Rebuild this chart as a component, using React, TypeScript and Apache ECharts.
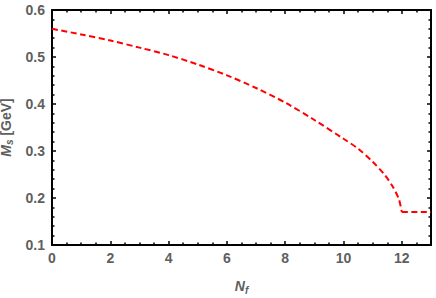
import React, { useEffect, useRef } from "react";
import * as echarts from "echarts";

const nfValues = [0, 1, 2, 3, 4, 5, 6, 7, 8, 9, 10, 10.5, 11, 11.4, 11.7, 11.9, 12];
const msValues = [0.56, 0.548, 0.535, 0.52, 0.504, 0.484, 0.461, 0.434, 0.403, 0.366, 0.326, 0.305, 0.277, 0.25, 0.223, 0.197, 0.17];
const plateauNf = [12, 13];
const plateauMs = [0.17, 0.17];
const xTicks = [0, 2, 4, 6, 8, 10, 12];
const yTicks = [0.1, 0.2, 0.3, 0.4, 0.5, 0.6];

const gray = "#5f5f5f";
const labelStyle = {
  color: gray,
  fontFamily: "Liberation Sans",
  fontWeight: "bold" as const,
  fontSize: 14,
};
const richName = {
  m: { fontFamily: "Liberation Sans", fontStyle: "italic", fontWeight: "bold", fontSize: 14, color: gray, lineHeight: 18, verticalAlign: "middle" },
  s: { fontFamily: "Liberation Sans", fontStyle: "italic", fontWeight: "bold", fontSize: 10, color: gray, lineHeight: 12, verticalAlign: "bottom" },
  n: { fontFamily: "Liberation Sans", fontWeight: "bold", fontSize: 14, color: gray, lineHeight: 18, verticalAlign: "middle" },
};

export default function App() {
  const ref = useRef<HTMLDivElement>(null);
  useEffect(() => {
    if (!ref.current) return;
    const chart = echarts.init(ref.current, null, { renderer: "svg" });
    const col = "#000000";
    const mkX = (pos: string, labels: boolean) => ({
      type: "value",
      position: pos,
      min: xTicks[0],
      max: 13,
      interval: 2,
      axisLine: { show: true, onZero: false, lineStyle: { color: col, width: 2 } },
      axisTick: { show: true, inside: true, length: 4, lineStyle: { color: col, width: 1.5 } },
      minorTick: { show: true, splitNumber: 4, length: 2.5, lineStyle: { color: col, width: 1.5 } },
      splitLine: { show: false },
      name: labels ? "{m|N}{s|f}" : "",
      nameLocation: "middle",
      nameGap: 32,
      nameTextStyle: { rich: richName },
      axisLabel: labels
        ? { ...labelStyle, margin: 6, showMaxLabel: false, formatter: (v: number) => (xTicks.includes(v) ? String(v) : "") }
        : { show: false },
    });
    const mkY = (pos: string, labels: boolean) => ({
      type: "value",
      position: pos,
      min: yTicks[0],
      max: yTicks[yTicks.length - 1],
      interval: 0.1,
      axisLine: { show: true, onZero: false, lineStyle: { color: col, width: 2 } },
      axisTick: { show: true, inside: true, length: 4, lineStyle: { color: col, width: 1.5 } },
      minorTick: { show: true, splitNumber: 5, length: 2.5, lineStyle: { color: col, width: 1.5 } },
      splitLine: { show: false },
      name: labels ? "{m|M}{s|s}{n| [GeV]}" : "",
      nameLocation: "middle",
      nameGap: 34,
      nameTextStyle: { rich: richName },
      axisLabel: labels ? { ...labelStyle, margin: 7, formatter: (v: number) => v.toFixed(1) } : { show: false },
    });
    const lineStyle = { color: "#ff0000", width: 2, type: [6, 3.5] };
    chart.setOption({
      animation: false,
      grid: { left: 52, top: 10, right: 5, bottom: 53, containLabel: false, outerBoundsMode: "none" },
      xAxis: [mkX("bottom", true), mkX("top", false)],
      yAxis: [mkY("left", true), mkY("right", false)],
      series: [
        {
          type: "line",
          xAxisIndex: 0,
          yAxisIndex: 0,
          data: nfValues.map((x, i) => [x, msValues[i]]),
          showSymbol: false,
          smooth: 0.3,
          lineStyle,
        },
        {
          type: "line",
          xAxisIndex: 0,
          yAxisIndex: 0,
          data: plateauNf.map((x, i) => [x, plateauMs[i]]),
          showSymbol: false,
          lineStyle,
        },
      ],
    });
    return () => chart.dispose();
  }, []);
  return <div ref={ref} style={{ width: 436, height: 298, position: "absolute", left: 0, top: 0 }} />;
}
